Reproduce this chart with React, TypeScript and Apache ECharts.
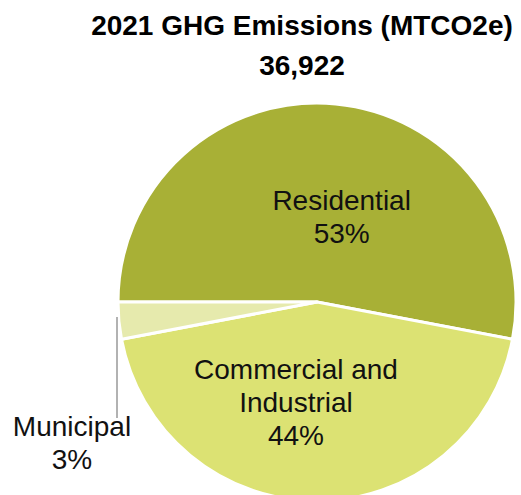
import React, { useEffect, useRef } from "react";
import * as echarts from "echarts";

const categories = ["Residential", "Commercial and\nIndustrial", "Municipal"];
const values = [19569, 16246, 1107];
const colors = ["#A8B036", "#DCE273", "#E6EAAD"];
const titleText = "2021 GHG Emissions (MTCO2e)";
const totalText = "36,922";

export default function App() {
  const ref = useRef<HTMLDivElement>(null);
  useEffect(() => {
    if (!ref.current) return;
    const chart = echarts.init(ref.current, undefined, { renderer: "svg" });
    const font = "'Liberation Sans', Arial, sans-serif";
    const labelOffsets: Record<number, number[]> = { 0: [15, 17], 1: [-21, -2] };
    chart.setOption({
      animation: false,
      backgroundColor: "#ffffff",
      title: {
        text: titleText,
        subtext: totalText,
        left: 297,
        textAlign: "center",
        top: 6,
        itemGap: 12,
        textStyle: { fontFamily: font, fontSize: 28, fontWeight: "bold", color: "#000" },
        subtextStyle: { fontFamily: font, fontSize: 28, fontWeight: "bold", color: "#000" },
      },
      graphic: [
        {
          type: "line",
          shape: { x1: 117, y1: 317, x2: 117, y2: 418 },
          style: { stroke: "#999999", lineWidth: 1.5 },
          z: 10,
        },
      ],
      series: [
        {
          type: "pie",
          center: [317, 302],
          radius: 199,
          startAngle: 180,
          clockwise: true,
          percentPrecision: 0,
          avoidLabelOverlap: false,
          itemStyle: { borderColor: "#ffffff", borderWidth: 3 },
          label: {
            show: true,
            position: "inside",
            formatter: "{b}\n{d}%",
            fontFamily: font,
            fontSize: 28,
            lineHeight: 33,
            color: "#111",
          },
          labelLine: { show: false },
          labelLayout: (p: any) => {
            if (p.dataIndex === 2) {
              return { x: 72, y: 443, align: "center", verticalAlign: "middle" };
            }
            const o = labelOffsets[p.dataIndex];
            return { dx: o[0], dy: o[1] };
          },
          data: categories.map((c, i) => ({
            name: c,
            value: values[i],
            itemStyle: { color: colors[i] },
          })),
        },
      ],
    });
    return () => chart.dispose();
  }, []);
  return (
    <div
      ref={ref}
      style={{ position: "fixed", left: 0, top: 0, width: 521, height: 495 }}
    />
  );
}
